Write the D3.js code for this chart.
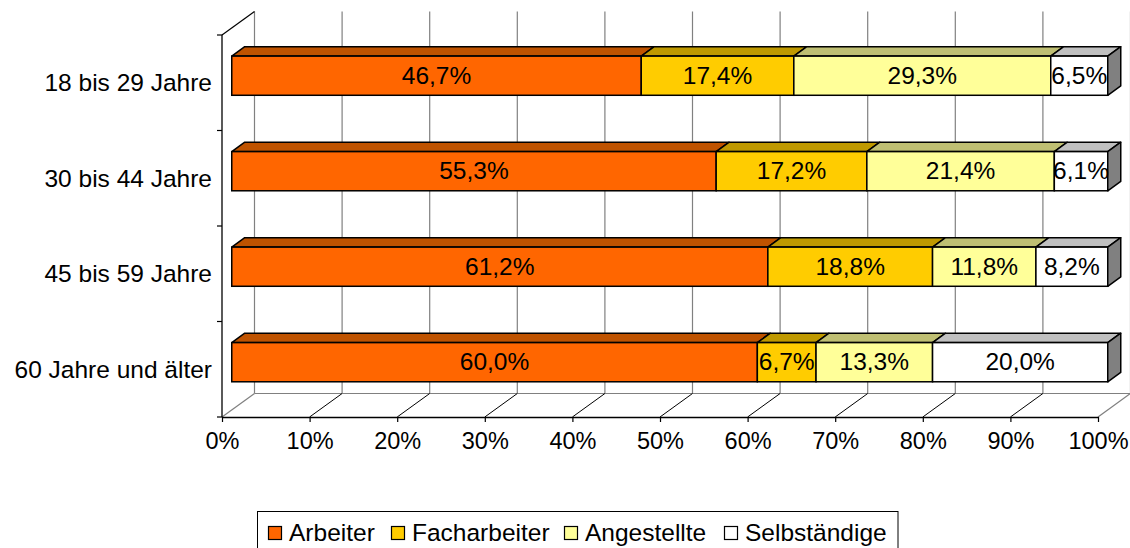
<!DOCTYPE html>
<html>
<head>
<meta charset="utf-8">
<script src="https://cdn.jsdelivr.net/npm/d3@7"></script>
<style>
  body { margin: 0; background: #fff; }
  text { font-family: "Liberation Sans", Arial, sans-serif; }
</style>
</head>
<body>
<div class="chart"></div>
<script>
const categories = ['18 bis 29 Jahre', '30 bis 44 Jahre', '45 bis 59 Jahre', '60 Jahre und älter'];
const series = ['Arbeiter', 'Facharbeiter', 'Angestellte', 'Selbständige'];
const arbeiter = [46.7, 55.3, 61.2, 60.0];
const facharbeiter = [17.4, 17.2, 18.8, 6.7];
const angestellte = [29.3, 21.4, 11.8, 13.3];
const selbstaendige = [6.5, 6.1, 8.2, 20.0];
const xTicks = [0, 10, 20, 30, 40, 50, 60, 70, 80, 90, 100];

const frontColors = ['#ff6600', '#ffcc00', '#ffff99', '#ffffff'];
const topColors = ['#bf5300', '#bf9900', '#bfbf73', '#c0c0c0'];
const sideColor = '#808080';

const values = [arbeiter, facharbeiter, angestellte, selbstaendige];
const rows = categories.map((c, i) => {
    const vals = values.map(s => s[i]);
    const total = d3.sum(vals);
    let acc = 0;
    const segs = vals.map((v, j) => {
        const s = { key: series[j], value: v, x0: acc / total * 100, x1: (acc + v) / total * 100, j: j };
        acc += v;
        return s;
    });
    return { cat: c, segs: segs };
});

const W = 1130, H = 548;
const svg = d3.select('.chart').append('svg')
    .attr('width', W)
    .attr('height', H);

// depth vector of the 3d box
const dx = 32.5, dy = -23.5;
const front0 = 0.3, front1 = 0.7;   // bar position within depth

const xScale = d3.scaleLinear().domain([0, 100]).range([222, 1098]);
const yScale = d3.scaleBand().domain(categories).range([35, 417])
    .paddingInner(0.59).paddingOuter(0.295);

const yTop = 35, yBottom = 417;
const fs = '24.5px';
const fsTick = '23.5px';

// back wall gridlines
svg.append('g').selectAll('line')
    .data(xTicks)
    .join('line')
    .attr('x1', d => xScale(d) + dx).attr('x2', d => xScale(d) + dx)
    .attr('y1', yTop + dy).attr('y2', yBottom + dy)
    .attr('stroke', '#808080').attr('stroke-width', 1.2);

// floor back edge and side edges
svg.append('line')
    .attr('x1', xScale(0) + dx).attr('x2', xScale(100) + dx)
    .attr('y1', yBottom + dy).attr('y2', yBottom + dy)
    .attr('stroke', '#808080').attr('stroke-width', 1.2);
svg.append('line')
    .attr('x1', xScale(100)).attr('y1', yBottom)
    .attr('x2', xScale(100) + dx).attr('y2', yBottom + dy)
    .attr('stroke', '#808080').attr('stroke-width', 1.2);
svg.append('line')
    .attr('x1', xScale(0)).attr('y1', yBottom)
    .attr('x2', xScale(0) + dx).attr('y2', yBottom + dy)
    .attr('stroke', '#808080').attr('stroke-width', 1.2);

// floor diagonals
svg.append('g').selectAll('line')
    .data(xTicks.slice(1, -1))
    .join('line')
    .attr('x1', d => xScale(d)).attr('y1', yBottom)
    .attr('x2', d => xScale(d) + dx).attr('y2', yBottom + dy)
    .attr('stroke', '#000').attr('stroke-width', 1);

// left wall top edge
svg.append('line')
    .attr('x1', xScale(0)).attr('y1', yTop)
    .attr('x2', xScale(0) + dx).attr('y2', yTop + dy)
    .attr('stroke', '#000').attr('stroke-width', 1.2);

// axes
const xAxis = d3.axisBottom(xScale).tickValues(xTicks).tickFormat(d => d + '%').tickSize(5).tickPadding(10).tickSizeOuter(0);
const gx = svg.append('g').attr('transform', `translate(0,${yBottom})`).call(xAxis);
gx.select('.domain').attr('stroke', '#000').attr('stroke-width', 1.3);
gx.selectAll('line').attr('stroke', '#000').attr('stroke-width', 1.2);
gx.selectAll('text').attr('font-size', fsTick).attr('fill', '#000')
    .style('font-family', '"Liberation Sans", Arial, sans-serif');

svg.append('line')
    .attr('x1', xScale(0)).attr('x2', xScale(0))
    .attr('y1', yTop).attr('y2', yBottom)
    .attr('stroke', '#000').attr('stroke-width', 1.3);
const yTickPos = categories.map(c => yScale(c) - yScale.step() * yScale.paddingInner() / 2).concat([yBottom]);
svg.append('g').selectAll('line')
    .data(yTickPos)
    .join('line')
    .attr('x1', xScale(0) - 5).attr('x2', xScale(0))
    .attr('y1', d => d).attr('y2', d => d)
    .attr('stroke', '#000').attr('stroke-width', 1.2);
svg.append('g').selectAll('text')
    .data(categories)
    .join('text')
    .attr('x', 212)
    .attr('y', d => yScale(d) + yScale.bandwidth() / 2)
    .attr('dy', '0.35em')
    .attr('text-anchor', 'end')
    .attr('font-size', fs)
    .text(d => d);

// bars
const ox = dx * front0, oy = dy * front0;
const bx = dx * (front1 - front0), by = dy * (front1 - front0);
const bh = yScale.bandwidth();

rows.forEach(r => {
    const g = svg.append('g');
    const y0 = yScale(r.cat) + oy;
    r.segs.forEach(s => {
        const xa = xScale(s.x0) + ox, xb = xScale(s.x1) + ox;
        g.append('path')
            .attr('d', `M${xa},${y0}L${xa + bx},${y0 + by}L${xb + bx},${y0 + by}L${xb},${y0}Z`)
            .attr('fill', topColors[s.j]).attr('stroke', '#000').attr('stroke-width', 1.5)
            .attr('stroke-linejoin', 'round');
        g.append('rect')
            .attr('x', xa).attr('y', y0)
            .attr('width', xb - xa).attr('height', bh)
            .attr('fill', frontColors[s.j]).attr('stroke', '#000').attr('stroke-width', 1.5);
    });
    const last = r.segs[r.segs.length - 1];
    const xe = xScale(last.x1) + ox;
    g.append('path')
        .attr('d', `M${xe},${y0}L${xe + bx},${y0 + by}L${xe + bx},${y0 + by + bh}L${xe},${y0 + bh}Z`)
        .attr('fill', sideColor).attr('stroke', '#000').attr('stroke-width', 1.5)
        .attr('stroke-linejoin', 'round');
    g.selectAll('text.lbl')
        .data(r.segs)
        .join('text')
        .attr('class', 'lbl')
        .attr('x', d => (xScale(d.x0) + xScale(d.x1)) / 2 + ox)
        .attr('y', y0 + bh / 2)
        .attr('dy', '0.33em')
        .attr('text-anchor', 'middle')
        .attr('font-size', fs)
        .text(d => d.value.toFixed(1).replace('.', ',') + '%');
});

// legend
const legend = svg.append('g');
legend.append('rect')
    .attr('x', 257.5).attr('y', 511.5).attr('width', 640.5).attr('height', 60)
    .attr('fill', '#fff').attr('stroke', '#000').attr('stroke-width', 1);
const legX = [268, 391, 564, 724];
series.forEach((s, i) => {
    legend.append('rect')
        .attr('x', legX[i] + 0.5).attr('y', 526.5).attr('width', 13).attr('height', 13)
        .attr('fill', frontColors[i]).attr('stroke', '#000').attr('stroke-width', 1.2);
    legend.append('text')
        .attr('x', legX[i] + 21).attr('y', 532)
        .attr('dy', '0.35em')
        .attr('font-size', fs)
        .text(s);
});
</script>
</body>
</html>
